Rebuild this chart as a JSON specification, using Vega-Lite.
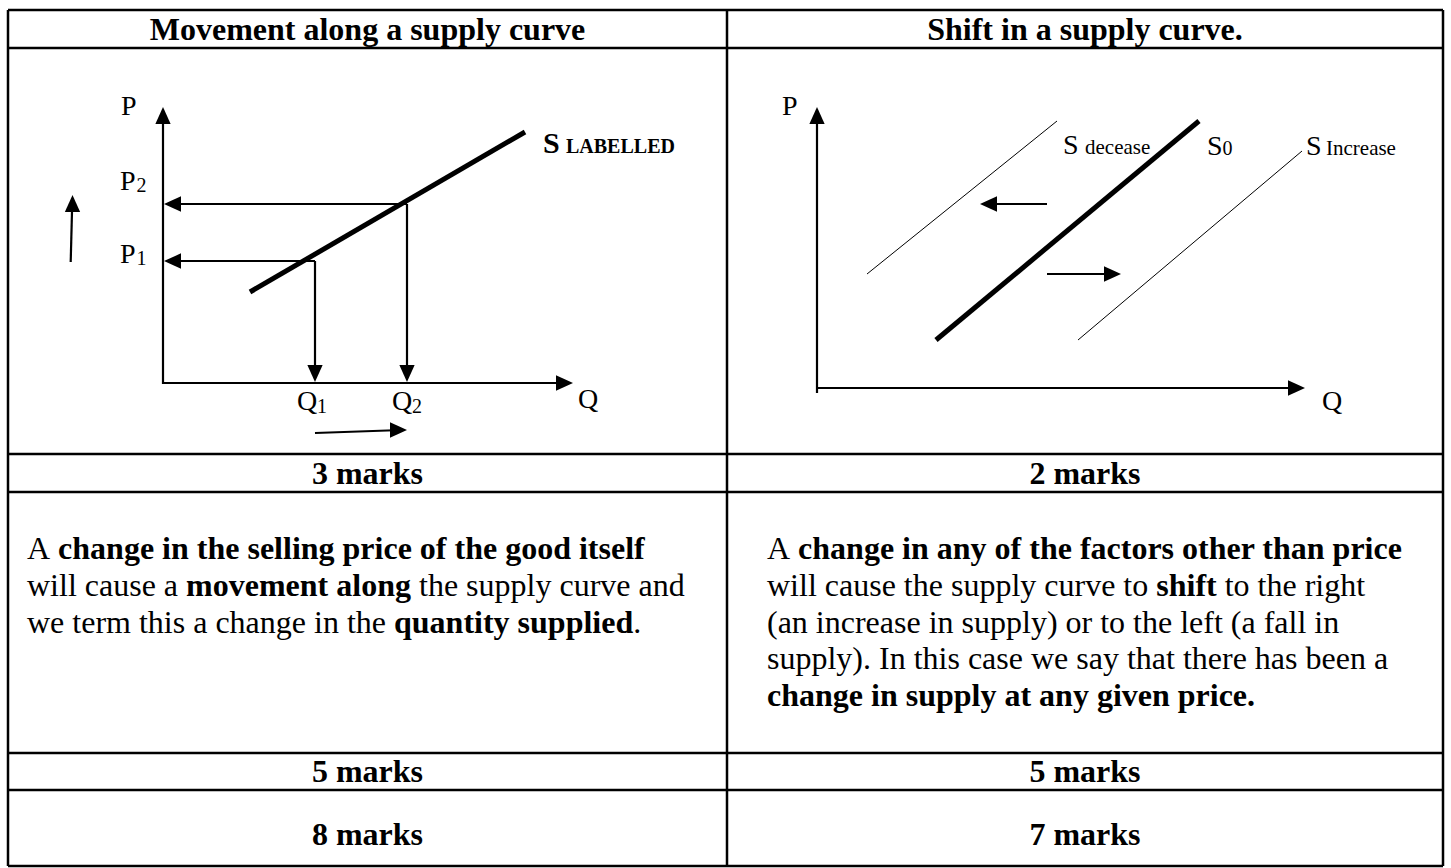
{
  "$schema": "https://vega.github.io/schema/vega-lite/v6.json",
  "autosize": {"type": "fit", "contains": "padding"},
  "width": 1451,
  "height": 868,
  "padding": 0,
  "background": "white",
  "config": {"view": {"stroke": null}},
  "datasets": {
    "segs": [
      {"kind": "border", "x": 8, "y": 10, "x2": 1443, "y2": 10},
      {"kind": "border", "x": 8, "y": 866, "x2": 1443, "y2": 866},
      {"kind": "border", "x": 8, "y": 10, "x2": 8, "y2": 866},
      {"kind": "border", "x": 1443, "y": 10, "x2": 1443, "y2": 866},
      {"kind": "border", "x": 727, "y": 10, "x2": 727, "y2": 866},
      {"kind": "border", "x": 8, "y": 48, "x2": 1443, "y2": 48},
      {"kind": "border", "x": 8, "y": 454, "x2": 1443, "y2": 454},
      {"kind": "border", "x": 8, "y": 492, "x2": 1443, "y2": 492},
      {"kind": "border", "x": 8, "y": 753, "x2": 1443, "y2": 753},
      {"kind": "border", "x": 8, "y": 790, "x2": 1443, "y2": 790},
      {"kind": "axis", "x": 163, "y": 384, "x2": 163, "y2": 112},
      {"kind": "axis", "x": 163, "y": 383, "x2": 568, "y2": 383},
      {"kind": "axis", "x": 407, "y": 204, "x2": 170, "y2": 204},
      {"kind": "axis", "x": 315, "y": 261, "x2": 170, "y2": 261},
      {"kind": "axis", "x": 315, "y": 261, "x2": 315, "y2": 376},
      {"kind": "axis", "x": 407, "y": 204, "x2": 407, "y2": 376},
      {"kind": "axis", "x": 70.7, "y": 262, "x2": 72.3, "y2": 200},
      {"kind": "axis", "x": 315, "y": 433, "x2": 402, "y2": 430},
      {"kind": "axis", "x": 817, "y": 393, "x2": 817, "y2": 112},
      {"kind": "axis", "x": 817, "y": 388, "x2": 1300, "y2": 388},
      {"kind": "axis", "x": 1047, "y": 204, "x2": 986, "y2": 204},
      {"kind": "axis", "x": 1047, "y": 274, "x2": 1115, "y2": 274},
      {"kind": "thick", "x": 250, "y": 292, "x2": 525, "y2": 132},
      {"kind": "thick", "x": 936, "y": 340, "x2": 1199, "y2": 121},
      {"kind": "thin", "x": 867, "y": 274, "x2": 1057, "y2": 121},
      {"kind": "thin", "x": 1078, "y": 340, "x2": 1302, "y2": 151}
    ],
    "heads": [
      {"dir": "up", "x": 163, "y": 107},
      {"dir": "up", "x": 72.5, "y": 195},
      {"dir": "up", "x": 817, "y": 107},
      {"dir": "right", "x": 573, "y": 383},
      {"dir": "right", "x": 407, "y": 430},
      {"dir": "right", "x": 1305, "y": 388},
      {"dir": "right", "x": 1121, "y": 274},
      {"dir": "down", "x": 315, "y": 382},
      {"dir": "down", "x": 407, "y": 382},
      {"dir": "left", "x": 164, "y": 204},
      {"dir": "left", "x": 164, "y": 261},
      {"dir": "left", "x": 980, "y": 204}
    ],
    "texts": [
      {"role": "header", "x": 367.5, "y": 40, "text": "Movement along a supply curve"},
      {"role": "header", "x": 1085, "y": 40, "text": "Shift in a supply curve."},
      {"role": "header", "x": 367.5, "y": 484, "text": "3 marks"},
      {"role": "header", "x": 1085, "y": 484, "text": "2 marks"},
      {"role": "header", "x": 367.5, "y": 782, "text": "5 marks"},
      {"role": "header", "x": 1085, "y": 782, "text": "5 marks"},
      {"role": "header", "x": 367.5, "y": 845, "text": "8 marks"},
      {"role": "header", "x": 1085, "y": 845, "text": "7 marks"},
      {"role": "body", "x": 27, "y": 559, "text": "A"},
      {"role": "emph", "x": 58.1, "y": 559, "text": "change in the selling price of the good itself"},
      {"role": "body", "x": 27, "y": 596, "text": "will cause a"},
      {"role": "emph", "x": 186.1, "y": 596, "text": "movement along"},
      {"role": "body", "x": 419, "y": 596, "text": "the supply curve and"},
      {"role": "body", "x": 27, "y": 633, "text": "we term this a change in the"},
      {"role": "emph", "x": 394, "y": 633, "text": "quantity supplied"},
      {"role": "body", "x": 633.2, "y": 633, "text": "."},
      {"role": "body", "x": 767, "y": 559, "text": "A"},
      {"role": "emph", "x": 798.1, "y": 559, "text": "change in any of the factors other than price"},
      {"role": "body", "x": 767, "y": 596, "text": "will cause the supply curve to"},
      {"role": "emph", "x": 1156.3, "y": 596, "text": "shift"},
      {"role": "body", "x": 1224.7, "y": 596, "text": "to the right"},
      {"role": "body", "x": 767, "y": 633, "text": "(an increase in supply) or to the left (a fall in"},
      {"role": "body", "x": 767, "y": 669, "text": "supply).  In this case we say that there has been a"},
      {"role": "emph", "x": 767, "y": 706, "text": "change in supply at any given price."},
      {"role": "label", "x": 121, "y": 115, "text": "P"},
      {"role": "label", "x": 120, "y": 190, "text": "P"},
      {"role": "sub", "x": 136.5, "y": 192, "text": "2"},
      {"role": "label", "x": 120, "y": 263, "text": "P"},
      {"role": "sub", "x": 136.5, "y": 265, "text": "1"},
      {"role": "label", "x": 297, "y": 410, "text": "Q"},
      {"role": "sub", "x": 317, "y": 413, "text": "1"},
      {"role": "label", "x": 392, "y": 410, "text": "Q"},
      {"role": "sub", "x": 412, "y": 413, "text": "2"},
      {"role": "label", "x": 578, "y": 408, "text": "Q"},
      {"role": "curvename", "x": 543, "y": 153, "text": "S"},
      {"role": "curvetag", "x": 566, "y": 153, "text": "LABELLED"},
      {"role": "label", "x": 782, "y": 115, "text": "P"},
      {"role": "label", "x": 1322, "y": 410, "text": "Q"},
      {"role": "label", "x": 1063, "y": 154, "text": "S"},
      {"role": "small", "x": 1085, "y": 154, "text": "decease"},
      {"role": "label", "x": 1207, "y": 155, "text": "S"},
      {"role": "sub", "x": 1222.5, "y": 155, "text": "0"},
      {"role": "label", "x": 1306, "y": 155, "text": "S"},
      {"role": "small", "x": 1326, "y": 155, "text": "Increase"}
    ]
  },
  "encoding": {
    "x": {"field": "x", "type": "quantitative", "scale": {"domain": [0, 1451], "nice": false, "zero": false}, "axis": null},
    "y": {"field": "y", "type": "quantitative", "scale": {"domain": [0, 868], "nice": false, "zero": false, "reverse": true}, "axis": null}
  },
  "layer": [
    {
      "data": {"name": "segs"},
      "transform": [{"filter": "datum.kind === 'border'"}],
      "mark": {"type": "rule", "color": "black", "strokeWidth": 2.5},
      "encoding": {"x2": {"field": "x2"}, "y2": {"field": "y2"}}
    },
    {
      "data": {"name": "segs"},
      "transform": [{"filter": "datum.kind === 'axis'"}],
      "mark": {"type": "rule", "color": "black", "strokeWidth": 2.2},
      "encoding": {"x2": {"field": "x2"}, "y2": {"field": "y2"}}
    },
    {
      "data": {"name": "segs"},
      "transform": [{"filter": "datum.kind === 'thick'"}],
      "mark": {"type": "rule", "color": "black", "strokeWidth": 5}, 
      "encoding": {"x2": {"field": "x2"}, "y2": {"field": "y2"}}
    },
    {
      "data": {"name": "segs"},
      "transform": [{"filter": "datum.kind === 'thin'"}],
      "mark": {"type": "rule", "color": "black", "strokeWidth": 1},
      "encoding": {"x2": {"field": "x2"}, "y2": {"field": "y2"}}
    },
    {
      "data": {"name": "heads"},
      "transform": [{"filter": "datum.dir === 'up'"}],
      "mark": {"type": "point", "shape": "M0,0L-0.9,2L0.9,2Z", "size": 289, "filled": true, "color": "black", "opacity": 1, "angle": 0}
    },
    {
      "data": {"name": "heads"},
      "transform": [{"filter": "datum.dir === 'right'"}],
      "mark": {"type": "point", "shape": "M0,0L-0.9,2L0.9,2Z", "size": 289, "filled": true, "color": "black", "opacity": 1, "angle": 90}
    },
    {
      "data": {"name": "heads"},
      "transform": [{"filter": "datum.dir === 'down'"}],
      "mark": {"type": "point", "shape": "M0,0L-0.9,2L0.9,2Z", "size": 289, "filled": true, "color": "black", "opacity": 1, "angle": 180}
    },
    {
      "data": {"name": "heads"},
      "transform": [{"filter": "datum.dir === 'left'"}],
      "mark": {"type": "point", "shape": "M0,0L-0.9,2L0.9,2Z", "size": 289, "filled": true, "color": "black", "opacity": 1, "angle": 270}
    },
    {
      "data": {"name": "texts"},
      "transform": [{"filter": "datum.role === 'header'"}],
      "mark": {"type": "text", "font": "Liberation Serif", "fontSize": 32, "fontWeight": "bold", "align": "center", "baseline": "alphabetic", "color": "black"},
      "encoding": {"text": {"field": "text"}}
    },
    {
      "data": {"name": "texts"},
      "transform": [{"filter": "datum.role === 'body'"}],
      "mark": {"type": "text", "font": "Liberation Serif", "fontSize": 32, "fontWeight": "normal", "align": "left", "baseline": "alphabetic", "color": "black"},
      "encoding": {"text": {"field": "text"}}
    },
    {
      "data": {"name": "texts"},
      "transform": [{"filter": "datum.role === 'emph'"}],
      "mark": {"type": "text", "font": "Liberation Serif", "fontSize": 32, "fontWeight": "bold", "align": "left", "baseline": "alphabetic", "color": "black"},
      "encoding": {"text": {"field": "text"}}
    },
    {
      "data": {"name": "texts"},
      "transform": [{"filter": "datum.role === 'label'"}],
      "mark": {"type": "text", "font": "Liberation Serif", "fontSize": 28, "fontWeight": "normal", "align": "left", "baseline": "alphabetic", "color": "black"},
      "encoding": {"text": {"field": "text"}}
    },
    {
      "data": {"name": "texts"},
      "transform": [{"filter": "datum.role === 'sub'"}],
      "mark": {"type": "text", "font": "Liberation Serif", "fontSize": 20, "fontWeight": "normal", "align": "left", "baseline": "alphabetic", "color": "black"},
      "encoding": {"text": {"field": "text"}}
    },
    {
      "data": {"name": "texts"},
      "transform": [{"filter": "datum.role === 'small'"}],
      "mark": {"type": "text", "font": "Liberation Serif", "fontSize": 21, "fontWeight": "normal", "align": "left", "baseline": "alphabetic", "color": "black"},
      "encoding": {"text": {"field": "text"}}
    },
    {
      "data": {"name": "texts"},
      "transform": [{"filter": "datum.role === 'curvename'"}],
      "mark": {"type": "text", "font": "Liberation Serif", "fontSize": 30, "fontWeight": "bold", "align": "left", "baseline": "alphabetic", "color": "black"},
      "encoding": {"text": {"field": "text"}}
    },
    {
      "data": {"name": "texts"},
      "transform": [{"filter": "datum.role === 'curvetag'"}],
      "mark": {"type": "text", "font": "Liberation Serif", "fontSize": 20, "fontWeight": "bold", "align": "left", "baseline": "alphabetic", "color": "black"},
      "encoding": {"text": {"field": "text"}}
    }
  ]
}
